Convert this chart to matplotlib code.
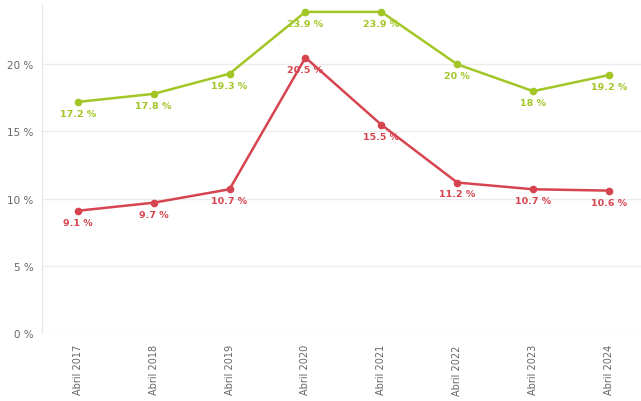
import matplotlib.pyplot as plt

years = ['Abril 2017', 'Abril 2018', 'Abril 2019', 'Abril 2020',
         'Abril 2021', 'Abril 2022', 'Abril 2023', 'Abril 2024']
green_vals = [17.2, 17.8, 19.3, 23.9, 23.9, 20, 18, 19.2]
red_vals = [9.1, 9.7, 10.7, 20.5, 15.5, 11.2, 10.7, 10.6]

green = '#a2c626'
red = '#d6454f'


def fmt(v):
    return f'{v:g} %'


fig = plt.figure(figsize=(6.41, 4.02), dpi=100)
ax = fig.add_axes([0.0655, 0.169, 0.9345, 0.819])

x = range(len(years))
for vals, col in [(green_vals, green), (red_vals, red)]:
    ax.plot(x, vals, color=col, lw=1.8, marker='o', ms=4.5, zorder=3)
    for xi, v in zip(x, vals):
        ax.annotate(fmt(v), (xi, v), xytext=(0, -5), textcoords='offset points',
                    ha='center', va='top', fontsize=6.8, color=col,
                    fontweight='semibold', zorder=4)

ax.set_xlim(-0.47, 7.42)
ax.set_ylim(0, 24.5)
ax.set_yticks([0, 5, 10, 15, 20])
ax.set_yticklabels([f'{t} %' for t in [0, 5, 10, 15, 20]])
ax.set_xticks(list(x))
ax.set_xticklabels(years, rotation=90)
ax.tick_params(axis='both', length=0, labelsize=7.5, colors='#666666')
ax.tick_params(axis='x', pad=8, labelsize=7)
ax.tick_params(axis='y', pad=6)

ax.grid(axis='y', color='#ececec', lw=1)
ax.set_axisbelow(True)
for s in ['top', 'right', 'bottom']:
    ax.spines[s].set_visible(False)
ax.spines['left'].set_color('#e6e6e6')

fig.savefig('out.png', dpi=100)
